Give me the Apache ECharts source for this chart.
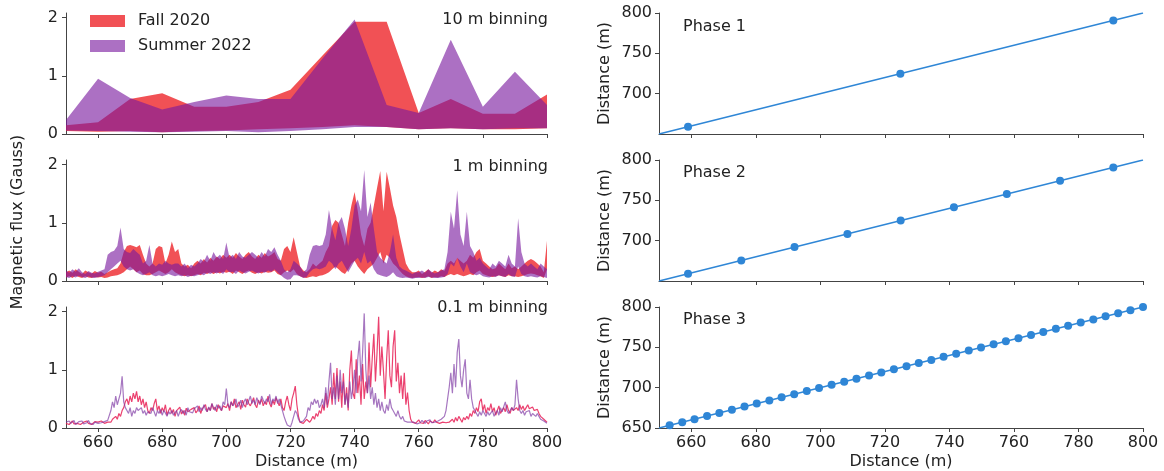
<!DOCTYPE html>
<html>
<head>
<meta charset="utf-8">
<script src="https://cdn.jsdelivr.net/npm/echarts@6/dist/echarts.min.js"></script>
<style>
html,body{margin:0;padding:0;background:#fff;}
#main{width:1164px;height:471px;}
</style>
</head>
<body>
<div id="main"></div>
<script>
// ---- 10 m binning ----
var dist10 = [650,660,670,680,690,700,710,720,730,740,750,760,770,780,790,800];
var fallLo10 = [0.05,0.04,0.05,0.03,0.05,0.06,0.08,0.1,0.12,0.15,0.12,0.08,0.1,0.08,0.08,0.1];
var fallHi10 = [0.15,0.2,0.6,0.7,0.47,0.47,0.55,0.76,1.35,1.93,1.93,0.36,0.6,0.35,0.35,0.68];
var sumLo10 = [0.06,0.05,0.04,0.03,0.04,0.05,0.03,0.05,0.08,0.12,0.12,0.08,0.1,0.08,0.1,0.1];
var sumHi10 = [0.24,0.95,0.62,0.42,0.55,0.66,0.6,0.6,1.3,1.97,0.5,0.36,1.62,0.47,1.07,0.5];

// ---- 1 m binning (650 .. 800, every metre) ----
var fallLo1 = [
  0.06,0.08,0.05,0.09,0.07,0.05,0.08,0.06,0.05,0.07,
  0.06,0.07,0.05,0.06,0.08,0.09,0.1,0.12,0.15,0.2,
  0.25,0.2,0.15,0.18,0.12,0.1,0.1,0.12,0.15,0.18,
  0.15,0.12,0.15,0.2,0.15,0.12,0.1,0.08,0.1,0.08,
  0.1,0.12,0.1,0.14,0.12,0.15,0.12,0.15,0.13,0.16,
  0.14,0.16,0.12,0.18,0.15,0.12,0.16,0.18,0.14,0.12,
  0.15,0.13,0.16,0.14,0.15,0.18,0.12,0.1,0.15,0.18,
  0.15,0.2,0.12,0.08,0.06,0.05,0.07,0.08,0.07,0.09,
  0.1,0.12,0.15,0.2,0.25,0.2,0.15,0.12,0.2,0.3,
  0.35,0.25,0.18,0.12,0.2,0.25,0.3,0.4,0.5,0.3,
  0.45,0.4,0.3,0.25,0.18,0.12,0.08,0.06,0.05,0.06,
  0.07,0.05,0.06,0.08,0.05,0.07,0.06,0.08,0.07,0.1,
  0.12,0.1,0.12,0.1,0.08,0.1,0.12,0.1,0.15,0.18,
  0.12,0.1,0.08,0.07,0.08,0.1,0.08,0.07,0.1,0.08,
  0.08,0.07,0.08,0.1,0.12,0.13,0.12,0.1,0.08,0.05,0.2];
var fallHi1 = [
  0.15,0.18,0.14,0.2,0.16,0.12,0.18,0.15,0.13,0.17,
  0.14,0.16,0.12,0.15,0.18,0.2,0.22,0.3,0.5,0.6,
  0.62,0.6,0.58,0.62,0.45,0.3,0.25,0.3,0.55,0.6,
  0.58,0.3,0.45,0.68,0.5,0.55,0.3,0.25,0.28,0.22,
  0.3,0.35,0.3,0.38,0.32,0.4,0.35,0.42,0.38,0.45,
  0.4,0.45,0.4,0.48,0.42,0.38,0.45,0.5,0.42,0.38,
  0.45,0.4,0.48,0.42,0.45,0.5,0.38,0.35,0.55,0.6,
  0.5,0.75,0.5,0.25,0.18,0.15,0.2,0.3,0.25,0.3,
  0.35,0.5,0.6,0.95,1.05,1.0,0.8,0.6,1.0,1.3,
  1.53,1.2,0.8,0.6,0.9,1.0,1.3,1.6,1.89,1.2,
  1.88,1.6,1.3,1.1,0.8,0.55,0.3,0.2,0.15,0.15,
  0.18,0.12,0.16,0.2,0.14,0.18,0.15,0.2,0.17,0.3,
  0.35,0.3,0.4,0.35,0.3,0.35,0.45,0.4,0.5,0.55,
  0.35,0.3,0.25,0.2,0.22,0.3,0.25,0.2,0.3,0.22,
  0.25,0.2,0.25,0.3,0.35,0.38,0.35,0.3,0.25,0.15,0.69];
var sumLo1 = [
  0.07,0.05,0.08,0.06,0.09,0.07,0.05,0.08,0.06,0.05,
  0.07,0.08,0.1,0.15,0.2,0.25,0.3,0.35,0.25,0.2,
  0.18,0.2,0.15,0.12,0.1,0.12,0.15,0.1,0.08,0.1,
  0.08,0.1,0.12,0.1,0.08,0.1,0.08,0.1,0.07,0.09,
  0.08,0.1,0.12,0.1,0.14,0.12,0.15,0.13,0.16,0.12,
  0.2,0.15,0.16,0.12,0.18,0.15,0.13,0.16,0.18,0.15,
  0.13,0.16,0.14,0.18,0.16,0.2,0.15,0.1,0.05,0.02,
  0.03,0.1,0.1,0.08,0.05,0.07,0.15,0.2,0.22,0.2,
  0.22,0.25,0.35,0.3,0.2,0.3,0.35,0.25,0.15,0.25,
  0.35,0.4,0.3,0.5,0.3,0.35,0.2,0.12,0.1,0.08,
  0.07,0.1,0.15,0.08,0.06,0.05,0.06,0.05,0.04,0.05,
  0.05,0.06,0.05,0.07,0.06,0.05,0.05,0.06,0.07,0.12,
  0.3,0.25,0.4,0.25,0.15,0.3,0.15,0.12,0.1,0.12,
  0.08,0.07,0.06,0.08,0.07,0.1,0.08,0.07,0.12,0.08,
  0.07,0.25,0.12,0.08,0.07,0.08,0.07,0.06,0.08,0.07,0.05];
var sumHi1 = [
  0.18,0.14,0.2,0.16,0.22,0.15,0.12,0.17,0.14,0.13,
  0.16,0.18,0.2,0.45,0.5,0.52,0.6,0.92,0.55,0.5,
  0.48,0.55,0.5,0.45,0.3,0.35,0.62,0.3,0.25,0.3,
  0.28,0.35,0.3,0.28,0.3,0.3,0.25,0.3,0.22,0.28,
  0.25,0.3,0.38,0.33,0.45,0.35,0.5,0.4,0.45,0.38,
  0.66,0.4,0.45,0.38,0.5,0.42,0.4,0.45,0.5,0.45,
  0.4,0.5,0.42,0.55,0.5,0.58,0.45,0.35,0.2,0.15,
  0.2,0.35,0.3,0.25,0.15,0.2,0.45,0.6,0.62,0.6,
  0.62,0.8,1.22,0.9,0.7,1.0,1.1,0.9,0.6,0.9,
  1.3,1.4,1.2,1.91,1.1,1.35,0.9,0.5,0.4,0.35,
  0.3,0.5,0.8,0.4,0.25,0.2,0.18,0.15,0.12,0.15,
  0.15,0.18,0.14,0.2,0.16,0.13,0.15,0.18,0.2,0.5,
  1.19,0.9,1.56,0.8,0.6,1.19,0.6,0.5,0.35,0.4,
  0.3,0.25,0.2,0.3,0.25,0.35,0.3,0.25,0.45,0.3,
  0.25,1.08,0.5,0.3,0.25,0.3,0.25,0.2,0.3,0.25,0.2];

var fall01 = [
  0.08,0.1,0.06,0.09,0.12,0.07,0.1,0.08,0.11,0.06,0.09,0.1,0.07,0.12,0.08,0.1,0.06,0.09,0.11,0.08,0.1,0.07,0.12,0.09,0.08,0.11,0.1,0.12,
  0.1,0.15,0.12,0.2,0.15,0.25,0.2,0.3,0.35,0.45,
  0.5,0.4,0.55,0.45,0.6,0.5,0.63,0.45,0.55,0.4,0.5,0.35,0.45,0.3,
  0.25,0.35,0.3,0.42,0.5,0.3,0.38,0.25,0.35,0.28,0.4,0.22,0.3,0.35,0.25,0.32,0.2,0.3,0.28,0.36,
  0.24,0.3,0.22,0.34,0.28,0.25,0.32,0.3,0.35,0.26,0.3,0.38,0.25,0.33,0.3,0.4,0.28,0.35,0.3,0.42,
  0.32,0.36,0.28,0.4,0.34,0.3,0.38,0.35,
  0.35,0.42,0.3,0.45,0.38,0.5,0.35,0.4,0.45,0.32,0.48,0.4,0.36,0.5,0.42,0.38,0.45,0.52,0.4,0.35,
  0.48,0.42,0.5,0.38,0.45,0.4,0.55,0.42,0.36,0.48,0.4,0.52,0.45,0.38,0.5,0.35,0.3,0.45,0.55,0.4,
  0.3,0.5,0.6,0.72,0.4,0.2,
  0.1,0.12,0.08,0.1,0.15,0.12,0.1,0.14,0.2,0.15,0.25,0.2,0.3,0.25,
  0.4,0.3,0.6,0.35,0.5,0.7,0.4,0.95,0.5,1.03,0.45,0.8,0.35,0.94,0.4,0.7,0.3,1.0,1.33,0.6,
  0.5,1.18,0.6,0.9,0.4,1.1,0.5,0.8,0.6,1.47,0.7,1.2,1.62,0.8,1.3,1.91,0.9,1.4,0.98,0.5,
  1.2,1.68,0.9,0.7,1.4,1.68,0.8,1.12,0.6,0.9,0.5,0.95,0.4,0.61,0.3,0.15,
  0.1,0.12,0.08,0.1,0.14,0.09,0.11,0.08,0.13,0.1,0.07,0.12,0.1,0.09,0.14,0.1,0.12,0.08,0.11,0.1,0.13,0.09,0.12,0.1,
  0.12,0.15,0.1,0.18,0.12,0.2,0.15,0.1,0.18,0.14,0.2,0.15,0.25,0.2,0.3,0.25,
  0.35,0.28,0.45,0.5,0.3,0.4,0.25,0.35,0.3,0.42,0.28,0.35,0.22,0.3,0.38,0.25,0.3,0.35,0.28,0.4,0.3,0.25,0.35,0.3,
  0.28,0.35,0.3,0.4,0.32,0.38,0.3,0.35,0.4,0.33,0.3,0.36,0.3,0.28,0.32,0.25,0.2,0.22,0.15,0.12,0.1];
var sum01 = [
  0.1,0.07,0.12,0.08,0.1,0.13,0.06,0.09,0.11,0.08,0.12,0.07,0.1,0.09,0.13,0.08,0.11,0.06,0.1,0.12,0.08,0.1,0.09,0.07,0.11,0.1,0.13,0.15,
  0.3,0.45,0.35,0.55,0.4,0.5,0.6,0.89,0.45,0.35,
  0.3,0.25,0.35,0.2,0.3,0.25,0.35,0.3,0.28,0.35,0.25,0.3,0.22,0.28,
  0.3,0.25,0.35,0.28,0.2,0.3,0.25,0.32,0.22,0.3,0.26,0.2,0.28,0.24,0.3,0.22,0.26,0.3,0.2,0.28,
  0.32,0.25,0.3,0.22,0.35,0.28,0.3,0.26,0.33,0.3,0.38,0.28,0.35,0.3,0.4,0.32,0.28,0.36,0.3,0.42,
  0.35,0.3,0.4,0.34,0.38,0.3,0.45,0.4,
  0.68,0.4,0.35,0.45,0.38,0.42,0.5,0.36,0.4,0.48,0.35,0.45,0.5,0.4,0.38,0.55,0.42,0.48,0.4,0.52,
  0.45,0.4,0.55,0.48,0.42,0.5,0.45,0.58,0.4,0.5,0.46,0.55,0.42,0.5,0.4,0.3,0.2,0.12,0.05,0.02,
  0.02,0.1,0.2,0.3,0.25,0.15,
  0.1,0.08,0.12,0.1,0.2,0.35,0.3,0.45,0.4,0.5,0.42,0.48,0.35,0.4,
  0.5,0.35,0.7,0.4,0.8,1.12,0.5,0.7,0.4,0.9,0.5,1.0,0.6,0.8,0.4,0.6,0.35,0.8,0.5,0.7,
  1.0,0.6,1.2,1.5,0.8,1.3,1.97,1.0,0.6,0.9,0.5,0.7,0.4,0.6,0.35,0.5,0.3,0.45,0.3,0.25,
  0.4,0.3,0.5,0.35,0.3,0.25,0.2,0.3,0.2,0.15,0.2,0.12,0.15,0.1,0.12,0.1,
  0.08,0.1,0.12,0.07,0.1,0.09,0.13,0.1,0.08,0.12,0.1,0.14,0.09,0.11,0.1,0.08,0.12,0.1,0.15,0.12,0.2,0.3,0.5,0.7,
  0.95,0.6,1.1,0.7,1.3,1.53,0.9,0.7,1.0,1.18,0.6,0.5,0.83,0.5,0.35,0.3,
  0.25,0.2,0.28,0.22,0.3,0.25,0.2,0.28,0.22,0.25,0.3,0.2,0.26,0.3,0.22,0.35,0.28,0.3,0.45,0.3,0.25,0.28,0.35,0.3,
  0.4,0.83,0.5,0.3,0.25,0.3,0.22,0.28,0.25,0.3,0.2,0.25,0.22,0.2,0.25,0.2,0.15,0.18,0.12,0.1,0.08];

// ---- phases: sample locations (distance vs distance) ----
var phase1 = [659.0, 724.8, 790.8];
var phase2 = [659.0, 675.5, 692.0, 708.4, 724.9, 741.4, 757.8, 774.3, 790.8];
var phase3 = [653.3,657.2,661.0,664.9,668.7,672.6,676.5,680.3,684.2,688.0,691.9,695.8,699.6,
  703.5,707.4,711.2,715.1,718.9,722.8,726.7,730.5,734.4,738.2,742.1,746.0,749.8,753.7,757.5,
  761.4,765.3,769.1,773.0,776.8,780.7,784.6,788.4,792.3,796.1,800.0];
var lineEnds = [650, 800];

var xTicks = [660,680,700,720,740,760,780,800];
var fluxTicks = [0,1,2];
var distTicksTop = [700,750,800];
var distTicksBottom = [650,700,750,800];
var binNotes = ['10 m binning','1 m binning','0.1 m binning'];
var phaseNames = ['Phase 1','Phase 2','Phase 3'];

var FONT = 'DejaVu Sans';
var fallColor = 'rgba(238,38,42,0.8)';
var sumColor = 'rgba(121,24,158,0.62)';
var blue = '#2f86d6';

var myChart = echarts.init(document.getElementById('main'));

// grid geometry
var tops = [13, 160, 307];
var panelH = 121;

function bins(start, step, n) {
  var out = [];
  for (var i = 0; i < n; i++) out.push(+(start + i * step).toFixed(2));
  return out;
}
var dist1 = bins(650, 1, fallHi1.length);
var dist01 = bins(650, 0.5, fall01.length);

function bandRows(x, lo, hi) {
  return x.map(function (v, i) { return [v, lo[i], hi[i]]; });
}

// one polygon per band, built from all points through the axis scales
function bandRenderer(color) {
  return function (params, api) {
    if (params.dataIndexInside !== 0) return null;
    var n = params.dataInsideLength;
    var top = [], bot = [];
    for (var i = 0; i < n; i++) {
      var x = api.value(0, i);
      top.push(api.coord([x, api.value(2, i)]));
      bot.unshift(api.coord([x, api.value(1, i)]));
    }
    return { type: 'polygon', shape: { points: top.concat(bot) }, style: { fill: color } };
  };
}

function band(name, idx, rows, color) {
  return {
    name: name, type: 'custom', xAxisIndex: idx, yAxisIndex: idx,
    data: rows, encode: { x: 0, y: [1, 2] },
    itemStyle: { color: color },
    renderItem: bandRenderer(color), silent: true
  };
}

var grids = [], xAxes = [], yAxes = [];
var axisCol = '#444';
for (var c = 0; c < 2; c++) {
  for (var r = 0; r < 3; r++) {
    var k = c * 3 + r;
    grids.push({ left: c === 0 ? 66 : 659, width: c === 0 ? 481 : 484, top: tops[r], height: panelH, containLabel: false, outerBoundsMode: 'none' });
    xAxes.push({
      type: 'value', gridIndex: k, min: 650, max: 800,
      axisLine: { show: true, lineStyle: { color: axisCol, width: 1 } },
      axisTick: { show: true, length: 4, customValues: xTicks, lineStyle: { color: axisCol } },
      axisLabel: { show: r === 2, customValues: xTicks, margin: 7, fontSize: 16, color: '#222', fontFamily: FONT },
      splitLine: { show: false },
      name: r === 2 ? 'Distance (m)' : '', nameLocation: 'middle', nameGap: 26,
      nameTextStyle: { fontSize: 16, color: '#222', fontFamily: FONT }
    });
    if (c === 0) {
      yAxes.push({
        type: 'value', gridIndex: k, min: 0, max: 2.08,
        axisLine: { show: true, lineStyle: { color: axisCol, width: 1 } },
        axisTick: { show: true, length: 4, customValues: fluxTicks, lineStyle: { color: axisCol } },
        axisLabel: { customValues: fluxTicks, margin: 8, fontSize: 16, color: '#222', fontFamily: FONT },
        splitLine: { show: false }
      });
    } else {
      var dt = r === 2 ? distTicksBottom : distTicksTop;
      yAxes.push({
        type: 'value', gridIndex: k, min: 650, max: 800,
        axisLine: { show: true, lineStyle: { color: axisCol, width: 1 } },
        axisTick: { show: true, length: 4, customValues: dt, lineStyle: { color: axisCol } },
        axisLabel: { customValues: dt, margin: 7, fontSize: 16, color: '#222', fontFamily: FONT },
        splitLine: { show: false },
        name: 'Distance (m)', nameLocation: 'middle', nameGap: 46,
        nameTextStyle: { fontSize: 16, color: '#222', fontFamily: FONT }
      });
    }
  }
}

var series = [
  band('Fall 2020', 0, bandRows(dist10, fallLo10, fallHi10), fallColor),
  band('Summer 2022', 0, bandRows(dist10, sumLo10, sumHi10), sumColor),
  band('Fall 2020', 1, bandRows(dist1, fallLo1, fallHi1), fallColor),
  band('Summer 2022', 1, bandRows(dist1, sumLo1, sumHi1), sumColor),
  {
    name: 'Fall 2020', type: 'line', xAxisIndex: 2, yAxisIndex: 2, showSymbol: false, silent: true,
    data: dist01.map(function (x, i) { return [x, fall01[i]]; }),
    lineStyle: { color: 'rgba(232,32,86,0.85)', width: 1.2 }, itemStyle: { color: fallColor }
  },
  {
    name: 'Summer 2022', type: 'line', xAxisIndex: 2, yAxisIndex: 2, showSymbol: false, silent: true,
    data: dist01.map(function (x, i) { return [x, sum01[i]]; }),
    lineStyle: { color: 'rgba(128,60,165,0.7)', width: 1.2 }, itemStyle: { color: sumColor }
  }
];

[phase1, phase2, phase3].forEach(function (pts, r) {
  var k = 3 + r;
  series.push({
    type: 'line', xAxisIndex: k, yAxisIndex: k, showSymbol: false, silent: true,
    data: lineEnds.map(function (v) { return [v, v]; }),
    lineStyle: { color: blue, width: 1.6 }
  });
  series.push({
    type: 'scatter', xAxisIndex: k, yAxisIndex: k, silent: true, symbolSize: 8,
    data: pts.map(function (v) { return [v, v]; }),
    itemStyle: { color: blue, opacity: 1 }
  });
});

var graphics = [{
  type: 'text', x: 18, y: 222, rotation: Math.PI / 2,
  style: { text: 'Magnetic flux (Gauss)', font: '16px "' + FONT + '"', fill: '#222', align: 'center', verticalAlign: 'middle' }
}];
var noteY = [20, 167, 308], phaseY = [27, 173, 320];
binNotes.forEach(function (t, r) {
  graphics.push({ type: 'text', x: 548, y: noteY[r],
    style: { text: t, font: '16px "' + FONT + '"', fill: '#222', align: 'right', verticalAlign: 'middle' } });
});
phaseNames.forEach(function (t, r) {
  graphics.push({ type: 'text', x: 683, y: phaseY[r],
    style: { text: t, font: '16px "' + FONT + '"', fill: '#222', align: 'left', verticalAlign: 'middle' } });
});

var option = {
  animation: false,
  backgroundColor: '#fff',
  textStyle: { fontFamily: FONT },
  grid: grids,
  xAxis: xAxes,
  yAxis: yAxes,
  legend: {
    data: ['Fall 2020', 'Summer 2022'], orient: 'vertical', left: 85, top: 8,
    icon: 'rect', itemWidth: 35, itemHeight: 12, itemGap: 9,
    textStyle: { fontSize: 16, color: '#222', fontFamily: FONT, lineHeight: 16, padding: [0, 0, 0, 8] }
  },
  graphic: graphics,
  series: series
};

myChart.setOption(option);
</script>
</body>
</html>
